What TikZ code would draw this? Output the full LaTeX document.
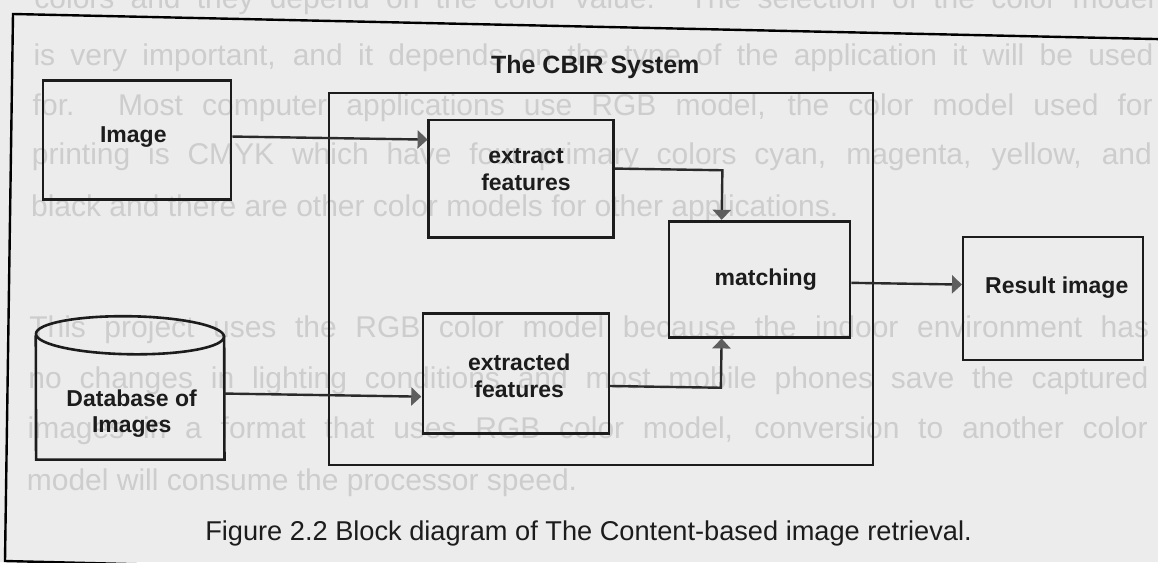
\documentclass[tikz,border=0pt]{standalone}
\usepackage{fontspec}
\setmainfont{Liberation Sans}
\usetikzlibrary{arrows.meta,calc}

\definecolor{paper}{HTML}{ECECEC}
\definecolor{ghost}{HTML}{CDCDCD}
\definecolor{ink}{HTML}{1C1C1C}
\definecolor{wire}{HTML}{2A2A2A}
\definecolor{tipgray}{HTML}{5E5E5E}

\begin{document}
\begin{tikzpicture}[x=1pt,y=-1pt,
  blockbox/.style={draw=ink,line width=2.6pt,inner sep=0pt,minimum width=#1},
  blockbox/.default=186pt,
  sysbox/.style={draw=ink,line width=2pt,inner sep=0pt},
  lbl/.style={inner sep=0pt,align=center,text=ink,
    font=\fontsize{23}{26.5}\selectfont\bfseries},
  flow/.style={draw=wire,line width=2.4pt,
    -{Triangle[length=10pt,width=18pt,color=tipgray]}},
  cyl/.style={draw=ink,line width=2.6pt},
  pagetext/.style={anchor=base west,inner sep=0pt,text=ghost,
    font=\fontsize{30}{30}\selectfont},
  frameline/.style={draw=black,line width=2.4pt,line join=miter}
]
\useasboundingbox (0,0) rectangle (1158,562);
\clip (0,0) rectangle (1158,562);
\fill[paper] (0,0) rectangle (1158,562);

\begin{scope}[rotate around={-0.9:(579,281)}]
  % running text of the page, printed faintly behind the figure
  \node[pagetext] (p0) at (30,17)  {\makebox[1120pt][s]{colors and they depend on the color value. The selection of the color model}};
  \node[pagetext] (p1) at (30,74)  {\makebox[1120pt][s]{is very important, and it depends on the type of the application it will be used}};
  \node[pagetext] (p2) at (30,124) {\makebox[1120pt][s]{for. Most computer applications use RGB model, the color model used for}};
  \node[pagetext] (p3) at (30,173) {\makebox[1120pt][s]{printing is CMYK which have four primary colors cyan, magenta, yellow, and}};
  \node[pagetext] (p4) at (30,225) {black and there are other color models for other applications.};
  \node[pagetext] (p5) at (30,346) {\makebox[1120pt][s]{This project uses the RGB color model because the indoor environment has}};
  \node[pagetext] (p6) at (30,397) {\makebox[1120pt][s]{no changes in lighting conditions and most mobile phones save the captured}};
  \node[pagetext] (p7) at (30,447) {\makebox[1120pt][s]{images in a format that uses RGB color model, conversion to another color}};
  \node[pagetext] (p8) at (30,499) {model will consume the processor speed.};

  % system boundary and its title
  \node[sysbox,minimum width=544pt,minimum height=372pt] (sys) at (601,278.4) {};
  \node[lbl,anchor=base,font=\fontsize{25}{28}\selectfont\bfseries] (systitle) at (592,73) {The CBIR System};

  % blocks
  \node[blockbox=188pt,minimum height=119pt] (img) at (134.8,146.9) {};
  \node[blockbox=185pt,minimum height=117.5pt] (ext) at (519.2,179.7) {};
  \node[blockbox=186pt,minimum height=120pt] (xtd) at (517.4,374.3) {};
  \node[blockbox=181pt,minimum height=116pt] (mat) at (759.6,276.9) {};
  \node[blockbox=180pt,minimum height=123pt] (res) at (1053.3,291.1) {};

  % database drum
  \node[inner sep=0pt,minimum width=188pt,minimum height=143pt] (db) at (132,395) {};
  \draw[cyl] ([yshift=-19pt]db.north west) -- (db.south west)
    -- (db.south east) -- ([yshift=-19pt]db.north east);
  \draw[cyl] ([yshift=-19pt]db.north) ellipse [x radius=94, y radius=19];

  % block labels
  \node[lbl] (imgT) at ([xshift=-3.7pt,yshift=2.6pt]img.center) {Image};
  \node[lbl] (extT) at ([xshift=5.1pt,yshift=9.1pt]ext.center) {extract\\features};
  \node[lbl] (xtdT) at ([xshift=3.3pt,yshift=-2.5pt]xtd.center) {extracted\\features};
  \node[lbl] (matT) at ([xshift=6.1pt]mat.center) {matching};
  \node[lbl] (resT) at ([xshift=3.5pt,yshift=11.3pt]res.center) {Result image};
  \node[lbl] (dbT)  at ([xshift=1.8pt,yshift=-25.7pt]db.center) {Database of\\Images};

  % data flow
  \draw[flow] ([yshift=3.4pt]img.east) -- ([yshift=3.4pt]img.east -| ext.west);
  \draw[flow] ([yshift=-5.6pt]db.east) -- ([yshift=-5.6pt]db.east -| xtd.west);
  \draw[flow] ([yshift=10.2pt]ext.east) -| ([xshift=-38pt]mat.north);
  \draw[flow] ([yshift=-12.7pt]xtd.east) -| ([xshift=-38pt]mat.south);
  \draw[flow] ([yshift=-3.1pt]mat.east) -- ([yshift=-3.1pt]mat.east -| res.west);

  % caption
  \node[inner sep=0pt,anchor=base,text=ink,font=\fontsize{27.2}{30}\selectfont] (cap)
    at (592.6,540) {Figure 2.2 Block diagram of The Content-based image retrieval.};
\end{scope}

% page border
\draw[frameline] (1200,40) -- (13,14) -- (5,561) -- (1200,590);
\end{tikzpicture}
\end{document}
